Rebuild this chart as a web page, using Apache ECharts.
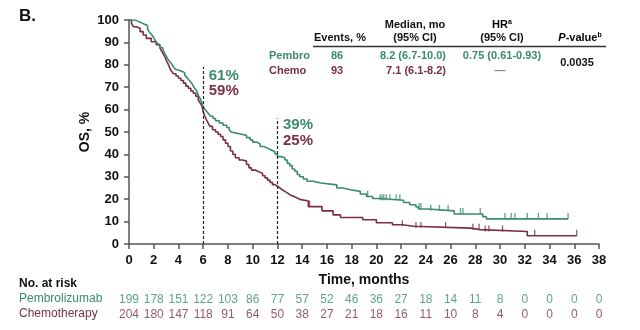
<!DOCTYPE html>
<html>
<head>
<meta charset="utf-8">
<script src="https://cdn.jsdelivr.net/npm/echarts@6/dist/echarts.min.js"></script>
<style>
  html, body { margin: 0; padding: 0; background: #fff; }
  #chart { width: 640px; height: 330px; }
</style>
</head>
<body>
<div id="chart"></div>
<script>
// Kaplan-Meier overall survival, pembrolizumab vs chemotherapy
const FONT = '"Liberation Sans", Arial, sans-serif';
const GREEN = '#3a8b70';
const MAROON = '#7a2f45';
const AXIS = '#555555';

// x ticks (months)
const monthTicks = [0, 2, 4, 6, 8, 10, 12, 14, 16, 18, 20, 22, 24, 26, 28, 30, 32, 34, 36, 38];

// survival steps: [month, OS %] (value holds from that month on)
const pembroCurve = [
  [0, 100], [0.5, 99.5], [0.7, 99], [0.9, 98.5], [1.1, 98], [1.3, 97.5], [1.5, 96], [1.6, 95],
  [1.75, 94], [1.9, 93], [2.0, 92], [2.1, 91], [2.25, 90], [2.4, 89], [2.5, 88], [2.6, 87.5],
  [2.75, 86.5], [2.9, 85], [3.0, 84], [3.1, 83], [3.2, 82], [3.35, 81], [3.5, 80], [3.6, 79],
  [3.75, 78], [3.9, 77.5], [4.1, 77], [4.3, 76.5], [4.5, 75.5], [4.65, 74.5], [4.8, 73.5],
  [4.95, 72.5], [5.1, 71.5], [5.25, 70], [5.4, 69], [5.5, 68], [5.6, 66.5], [5.75, 65],
  [5.85, 63.5], [5.95, 62], [6.0, 61], [6.15, 60], [6.3, 59], [6.45, 58], [6.6, 57], [6.8, 56],
  [7.0, 55], [7.3, 54], [7.6, 53], [7.9, 52], [8.1, 51], [8.25, 50], [8.4, 49.5], [8.7, 49],
  [9.1, 48.5], [9.5, 47.5], [9.8, 46.5], [10.0, 45.5], [10.3, 44.7], [10.6, 43.5], [10.9, 42.8],
  [11.2, 42], [11.5, 41.2], [11.8, 40.2], [12.0, 39], [12.3, 38.5], [12.6, 37.5], [12.8, 36],
  [13.0, 35], [13.2, 33.5], [13.4, 32.5], [13.6, 31], [13.8, 30], [14.1, 29], [14.4, 28],
  [14.9, 27.2], [15.5, 26.4], [16.8, 25], [17.3, 24.2], [17.9, 23.5], [18.7, 22.3], [19.2, 21.2],
  [19.7, 20.3], [20.3, 19.5], [22.2, 18.5], [22.7, 17.5], [23.2, 16.5], [23.4, 15.6], [24.2, 14.8],
  [26.3, 13.4], [28.6, 12.2], [28.9, 11.2], [35.5, 11.2]
];
const chemoCurve = [
  [0, 100], [0.2, 98.5], [0.35, 97], [0.6, 96.3], [0.9, 94.8], [1.15, 93.3], [1.4, 91.8],
  [1.8, 90.3], [2.2, 89], [2.5, 87.5], [2.65, 86], [2.8, 84.5], [2.95, 83], [3.05, 81.5],
  [3.2, 80], [3.3, 78.5], [3.45, 77], [3.6, 76], [3.8, 75], [4.0, 74], [4.2, 73], [4.4, 71.8],
  [4.6, 70.5], [4.8, 69.5], [5.0, 68.3], [5.2, 67.3], [5.4, 66], [5.6, 64.3], [5.75, 63],
  [5.9, 61.6], [6.0, 59], [6.1, 57.5], [6.25, 55.5], [6.4, 54], [6.55, 52.5], [6.75, 51],
  [7.0, 50], [7.2, 49], [7.4, 48], [7.6, 46.5], [7.8, 45], [8.0, 43.5], [8.2, 41.5], [8.4, 40],
  [8.6, 38.5], [8.9, 37.5], [9.2, 37], [9.5, 35.5], [9.7, 34], [9.9, 33], [10.2, 32.3],
  [10.5, 31.5], [10.8, 30.5], [11.0, 29.5], [11.2, 28.5], [11.4, 27.5], [11.6, 26.5],
  [11.8, 25.8], [12.0, 25], [12.2, 24.2], [12.4, 23.5], [12.6, 22.8], [12.8, 22], [13.0, 21.3],
  [13.3, 20.5], [13.6, 19.8], [13.9, 19.2], [14.5, 16.7], [15.6, 14.8], [16.5, 13], [17.1, 11.8],
  [18.9, 10.8], [20.0, 9.5], [21.3, 8.6], [22.1, 7.9], [23.0, 7.1], [27.6, 6.4], [28.4, 5.6],
  [32.2, 3.7], [36.2, 3.7]
];

// censoring times (months)
const pembroCensored = [19.3, 20.3, 20.45, 20.6, 20.8, 21.1, 21.6, 21.9, 23.45, 23.6, 24.4, 25.1,
  25.8, 26.8, 27.0, 28.4, 30.4, 30.9, 31.2, 32.2, 33.1, 33.8, 35.5];
const chemoCensored = [14.6, 22.1, 23.2, 23.6, 25.6, 27.8, 28.3, 28.8, 29.1, 30.2, 32.8, 36.2];

// landmark rates
const landmarks = [
  { month: 6, pembro: 61, chemo: 59 },
  { month: 12, pembro: 39, chemo: 25 }
];

// number at risk at each x tick
const pembroAtRisk = [199, 178, 151, 122, 103, 86, 77, 57, 52, 46, 36, 27, 18, 14, 11, 8, 0, 0, 0, 0];
const chemoAtRisk = [204, 180, 147, 118, 91, 64, 50, 38, 27, 21, 18, 16, 11, 10, 8, 4, 0, 0, 0, 0];

// summary table
const tableRows = [
  { arm: 'Pembro', events: '86', median: '8.2 (6.7-10.0)', hr: '0.75 (0.61-0.93)' },
  { arm: 'Chemo', events: '93', median: '7.1 (6.1-8.2)', hr: '\u2014' }
];
const pValue = '0.0035';

function survivalAt(curve, t) {
  let v = curve[0][1];
  for (const [m, s] of curve) { if (m <= t) v = s; else break; }
  return v;
}

const chart = echarts.init(document.getElementById('chart'), null, { renderer: 'canvas' });

const GRID_LEFT = 129, GRID_RIGHT = 41;

function riskSeries(idx, values, color) {
  return {
    type: 'scatter', xAxisIndex: idx, yAxisIndex: idx, symbolSize: 0, silent: true,
    data: values.map((v, i) => [monthTicks[i], 0, v]),
    label: {
      show: true, position: 'inside', formatter: p => String(p.data[2]),
      color: color, fontFamily: FONT, fontSize: 12
    }
  };
}

function censorSeries(times, curve, color) {
  return {
    type: 'scatter', xAxisIndex: 0, yAxisIndex: 0, silent: true,
    symbol: 'rect', symbolSize: [1.3, 6], symbolOffset: [0, -3],
    itemStyle: { color: color },
    data: times.map(t => [t, survivalAt(curve, t)]),
    z: 3
  };
}

function landmarkLabel(month, value, color, yPos) {
  return {
    coord: [month, yPos], symbolSize: 0,
    label: {
      show: true, position: 'right', distance: 0, formatter: value + '%',
      color: color, fontFamily: FONT, fontSize: 15, fontWeight: 'bold'
    }
  };
}

const hiddenAxis = { show: false, min: 0, max: 38 };

chart.setOption({
  animation: false,
  backgroundColor: '#ffffff',
  textStyle: { fontFamily: FONT },
  grid: [
    { left: GRID_LEFT, right: GRID_RIGHT, top: 20, bottom: 86 },
    { left: GRID_LEFT, right: GRID_RIGHT, top: 293, height: 14 },
    { left: GRID_LEFT, right: GRID_RIGHT, top: 308, height: 14 }
  ],
  xAxis: [
    {
      type: 'value', gridIndex: 0, min: 0, max: 38, interval: 2,
      name: 'Time, months', nameLocation: 'middle', nameGap: 29,
      nameTextStyle: { fontFamily: FONT, fontSize: 14, fontWeight: 'bold', color: '#111' },
      axisLine: { show: true, lineStyle: { color: AXIS, width: 1.5 } },
      axisTick: { show: true, length: 5, lineStyle: { color: AXIS, width: 1.5 } },
      axisLabel: { margin: 10, fontFamily: FONT, fontSize: 13, fontWeight: 'bold', color: '#111',
        formatter: v => monthTicks.includes(v) ? String(v) : '' },
      splitLine: { show: false }
    },
    Object.assign({ type: 'value', gridIndex: 1 }, hiddenAxis),
    Object.assign({ type: 'value', gridIndex: 2 }, hiddenAxis)
  ],
  yAxis: [
    {
      type: 'value', gridIndex: 0, min: 0, max: 100, interval: 10,
      name: 'OS, %', nameLocation: 'middle', nameGap: 37, nameRotate: 90, nameMoveOverlap: false,
      nameTextStyle: { fontFamily: FONT, fontSize: 14, fontWeight: 'bold', color: '#111' },
      axisLine: { show: true, lineStyle: { color: AXIS, width: 1.5 } },
      axisTick: { show: true, length: 5, lineStyle: { color: AXIS, width: 1.5 } },
      axisLabel: { margin: 10, fontFamily: FONT, fontSize: 13, fontWeight: 'bold', color: '#111' },
      splitLine: { show: false }
    },
    { type: 'value', gridIndex: 1, show: false, min: -1, max: 1 },
    { type: 'value', gridIndex: 2, show: false, min: -1, max: 1 }
  ],
  series: [
    {
      name: 'Chemo', type: 'line', step: 'end', xAxisIndex: 0, yAxisIndex: 0,
      data: chemoCurve, showSymbol: false, silent: true,
      lineStyle: { color: MAROON, width: 1.6 }, z: 2,
      markPoint: {
        silent: true,
        data: [
          landmarkLabel(landmarks[0].month + 0.45, landmarks[0].chemo, MAROON, 68.3),
          landmarkLabel(landmarks[1].month + 0.45, landmarks[1].chemo, MAROON, 46)
        ]
      }
    },
    {
      name: 'Pembro', type: 'line', step: 'end', xAxisIndex: 0, yAxisIndex: 0,
      data: pembroCurve, showSymbol: false, silent: true,
      lineStyle: { color: GREEN, width: 1.6 }, z: 2,
      markPoint: {
        silent: true,
        data: [
          landmarkLabel(landmarks[0].month + 0.45, landmarks[0].pembro, GREEN, 75),
          landmarkLabel(landmarks[1].month + 0.45, landmarks[1].pembro, GREEN, 53.2)
        ]
      },
      markLine: {
        silent: true, symbol: 'none',
        lineStyle: { color: '#222', type: [3, 2], width: 1.2 },
        label: { show: false },
        data: [
          [{ coord: [landmarks[0].month, 0] }, { coord: [landmarks[0].month, 79] }],
          [{ coord: [landmarks[1].month, 0] }, { coord: [landmarks[1].month, 56] }]
        ]
      }
    },
    censorSeries(pembroCensored, pembroCurve, GREEN),
    censorSeries(chemoCensored, chemoCurve, MAROON),
    riskSeries(1, pembroAtRisk, GREEN),
    riskSeries(2, chemoAtRisk, MAROON)
  ],
  graphic: [
    { type: 'text', left: 19, top: 8, style: { text: 'B.', font: 'bold 17px ' + FONT, fill: '#111' } },
    // at-risk row labels
    { type: 'text', left: 19, top: 278, style: { text: 'No. at risk', font: 'bold 12px ' + FONT, fill: '#111' } },
    { type: 'text', left: 19, top: 293, style: { text: 'Pembrolizumab', font: '12px ' + FONT, fill: GREEN } },
    { type: 'text', left: 19, top: 308, style: { text: 'Chemotherapy', font: '12px ' + FONT, fill: MAROON } },
    // summary table header
    { type: 'text', x: 340, y: 38, style: { text: 'Events, %', font: 'bold 11px ' + FONT, fill: '#111', align: 'center', verticalAlign: 'middle' } },
    { type: 'text', x: 415, y: 25, style: { text: 'Median, mo', font: 'bold 11px ' + FONT, fill: '#111', align: 'center', verticalAlign: 'middle' } },
    { type: 'text', x: 415, y: 38, style: { text: '(95% CI)', font: 'bold 11px ' + FONT, fill: '#111', align: 'center', verticalAlign: 'middle' } },
    { type: 'text', x: 502, y: 25, style: {
        text: '{m|HR}{s|a}', align: 'center', verticalAlign: 'middle',
        rich: { m: { font: 'bold 11px ' + FONT, color: '#111' },
                s: { font: 'bold 7px ' + FONT, color: '#111', verticalAlign: 'top', padding: [0, 0, 5, 0] } } } },
    { type: 'text', x: 502, y: 38, style: { text: '(95% CI)', font: 'bold 11px ' + FONT, fill: '#111', align: 'center', verticalAlign: 'middle' } },
    { type: 'text', x: 580, y: 38, style: {
        text: '{i|P}{m|-value}{s|b}', align: 'center', verticalAlign: 'middle',
        rich: { i: { font: 'italic bold 11px ' + FONT, color: '#111' },
                m: { font: 'bold 11px ' + FONT, color: '#111' },
                s: { font: 'bold 7px ' + FONT, color: '#111', verticalAlign: 'top', padding: [0, 0, 5, 0] } } } },
    { type: 'line', shape: { x1: 313, y1: 46.5, x2: 606, y2: 46.5 }, style: { stroke: '#333', lineWidth: 1.5 } },
    // summary table rows
    { type: 'text', x: 269, y: 55.5, style: { text: tableRows[0].arm, font: 'bold 11px ' + FONT, fill: GREEN, verticalAlign: 'middle' } },
    { type: 'text', x: 337, y: 55.5, style: { text: tableRows[0].events, font: 'bold 11px ' + FONT, fill: GREEN, align: 'center', verticalAlign: 'middle' } },
    { type: 'text', x: 446, y: 55.5, style: { text: tableRows[0].median, font: 'bold 11px ' + FONT, fill: GREEN, align: 'right', verticalAlign: 'middle' } },
    { type: 'text', x: 502, y: 55.5, style: { text: tableRows[0].hr, font: 'bold 11px ' + FONT, fill: GREEN, align: 'center', verticalAlign: 'middle' } },
    { type: 'text', x: 269, y: 71, style: { text: tableRows[1].arm, font: 'bold 11px ' + FONT, fill: MAROON, verticalAlign: 'middle' } },
    { type: 'text', x: 337, y: 71, style: { text: tableRows[1].events, font: 'bold 11px ' + FONT, fill: MAROON, align: 'center', verticalAlign: 'middle' } },
    { type: 'text', x: 446, y: 71, style: { text: tableRows[1].median, font: 'bold 11px ' + FONT, fill: MAROON, align: 'right', verticalAlign: 'middle' } },
    { type: 'text', x: 500, y: 71, style: { text: tableRows[1].hr, font: 'bold 11px ' + FONT, fill: '#a9707f', align: 'center', verticalAlign: 'middle' } },
    { type: 'text', x: 577, y: 63, style: { text: pValue, font: 'bold 11px ' + FONT, fill: '#111', align: 'center', verticalAlign: 'middle' } }
  ]
});
</script>
</body>
</html>
